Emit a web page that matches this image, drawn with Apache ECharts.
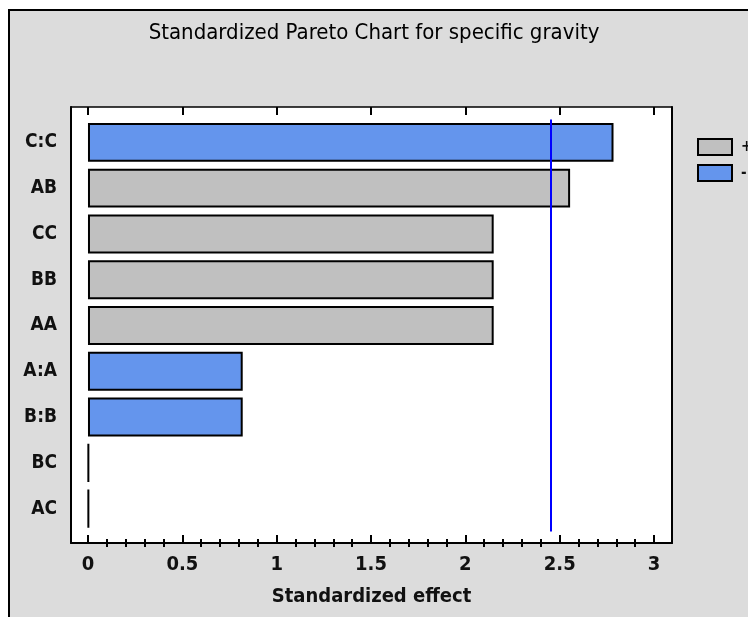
<!DOCTYPE html>
<html>
<head>
<meta charset="utf-8">
<script src="https://cdn.jsdelivr.net/npm/echarts@6/dist/echarts.min.js"></script>
<style>
html,body{margin:0;padding:0;background:#fff;}
#chart{width:748px;height:617px;}
</style>
</head>
<body>
<div id="chart"></div>
<script>
// ---- data ----
const categories = ['C:C', 'AB', 'CC', 'BB', 'AA', 'A:A', 'B:B', 'BC', 'AC'];
const effects    = [2.785, 2.555, 2.15, 2.15, 2.15, 0.82, 0.82, 0.004, 0.004];
const signs      = ['-', '+', '+', '+', '+', '-', '-', '+', '+'];
const criticalValue = 2.447;
const majorTicks = [0, 0.5, 1, 1.5, 2, 2.5, 3];
const minorTicks = [0.1, 0.2, 0.3, 0.4, 0.6, 0.7, 0.8, 0.9, 1.1, 1.2, 1.3, 1.4, 1.6, 1.7, 1.8, 1.9,
                    2.1, 2.2, 2.3, 2.4, 2.6, 2.7, 2.8, 2.9];
const titleText = 'Standardized Pareto Chart for specific gravity';
const xName = 'Standardized effect';

// ---- styles ----
const FONT = "'Liberation Sans Narrow','Arial Narrow','DejaVu Sans Condensed',sans-serif";
const XMIN = -0.09, XMAX = 3.095;

const plusData = effects.map((v, i) => signs[i] === '+' ? v : null);
const minusData = effects.map((v, i) => signs[i] === '-' ? v : null);

const chart = echarts.init(document.getElementById('chart'), null, {renderer: 'canvas'});

const hiddenAxisBits = {
  axisLine: {show: false}, axisTick: {show: false}, axisLabel: {show: false}, splitLine: {show: false}
};

chart.setOption({
  backgroundColor: '#ffffff',
  animation: false,
  graphic: [{
    type: 'rect', z: -10, silent: true,
    shape: {x: 9, y: 10, width: 900, height: 900},
    style: {fill: '#dcdcdc', stroke: '#000', lineWidth: 2}
  }],
  title: {
    text: titleText, left: 'center', top: 17,
    textStyle: {fontFamily: FONT, fontSize: 22, fontWeight: 'normal', color: '#000'}
  },
  legend: {
    orient: 'vertical', left: 692, top: 133, itemWidth: 34, itemHeight: 16, itemGap: 8,
    icon: 'rect',
    data: ['+', '-'],
    textStyle: {fontFamily: FONT, fontSize: 15, fontWeight: 'bold', color: '#111', padding: [0, 0, 0, 4]},
    itemStyle: {borderColor: '#000', borderWidth: 2}
  },
  grid: [
    {left: 71, top: 107, width: 601, height: 436, show: true, backgroundColor: '#fff', borderWidth: 0},
    {left: 71, top: 119.5, width: 601, height: 412}
  ],
  xAxis: [
    { // bottom major
      gridIndex: 0, type: 'value', position: 'bottom', min: XMIN, max: XMAX,
      axisLine: {show: true, onZero: false, lineStyle: {color: '#000', width: 2}},
      axisTick: {show: true, inside: true, length: 8, customValues: majorTicks, lineStyle: {color: '#000', width: 2}},
      axisLabel: {show: true, customValues: majorTicks, margin: 12, fontFamily: FONT, fontSize: 20,
                  fontWeight: 'bold', color: '#111'},
      splitLine: {show: false},
      name: xName, nameLocation: 'middle', nameGap: 44,
      nameTextStyle: {fontFamily: FONT, fontSize: 20, fontWeight: 'bold', color: '#111'}
    },
    { // bottom minor
      gridIndex: 0, type: 'value', position: 'bottom', min: XMIN, max: XMAX,
      axisLine: {show: false},
      axisTick: {show: true, inside: true, length: 4, customValues: minorTicks, lineStyle: {color: '#000', width: 2}},
      axisLabel: {show: false}, splitLine: {show: false}
    },
    { // top major
      gridIndex: 0, type: 'value', position: 'top', min: XMIN, max: XMAX,
      axisLine: {show: true, onZero: false, lineStyle: {color: '#000', width: 1.5}},
      axisTick: {show: true, inside: true, length: 8, customValues: majorTicks, lineStyle: {color: '#000', width: 2}},
      axisLabel: {show: false}, splitLine: {show: false}
    },
    { // top minor
      gridIndex: 0, type: 'value', position: 'top', min: XMIN, max: XMAX,
      axisLine: {show: false},
      axisTick: {show: true, inside: true, length: 4, customValues: minorTicks, lineStyle: {color: '#000', width: 2}},
      axisLabel: {show: false}, splitLine: {show: false}
    },
    Object.assign({gridIndex: 1, type: 'value', min: XMIN, max: XMAX}, hiddenAxisBits)
  ],
  yAxis: [
    {gridIndex: 0, type: 'value', position: 'left', min: 0, max: 1,
     axisLine: {show: true, onZero: false, lineStyle: {color: '#000', width: 2}},
     axisTick: {show: false}, axisLabel: {show: false}, splitLine: {show: false}},
    {gridIndex: 0, type: 'value', position: 'right', min: 0, max: 1,
     axisLine: {show: true, onZero: false, lineStyle: {color: '#000', width: 2}},
     axisTick: {show: false}, axisLabel: {show: false}, splitLine: {show: false}},
    {gridIndex: 1, type: 'category', data: categories, inverse: true,
     axisLine: {show: false}, axisTick: {show: false}, splitLine: {show: false},
     axisLabel: {show: true, margin: 14, fontFamily: FONT, fontSize: 19, fontWeight: 'bold', color: '#111'}}
  ],
  series: [
    {
      name: '+', type: 'bar', xAxisIndex: 4, yAxisIndex: 2, data: plusData,
      barWidth: '85%', barGap: '-100%',
      itemStyle: {color: '#c0c0c0', borderColor: '#000', borderWidth: 2},
      markLine: {
        silent: true, symbol: 'none', label: {show: false},
        lineStyle: {color: '#0000ff', width: 2, type: 'solid'},
        data: [{xAxis: criticalValue}]
      }
    },
    {
      name: '-', type: 'bar', xAxisIndex: 4, yAxisIndex: 2, data: minusData,
      barWidth: '85%', barGap: '-100%',
      itemStyle: {color: '#6495ed', borderColor: '#000', borderWidth: 2}
    }
  ]
});
</script>
</body>
</html>
